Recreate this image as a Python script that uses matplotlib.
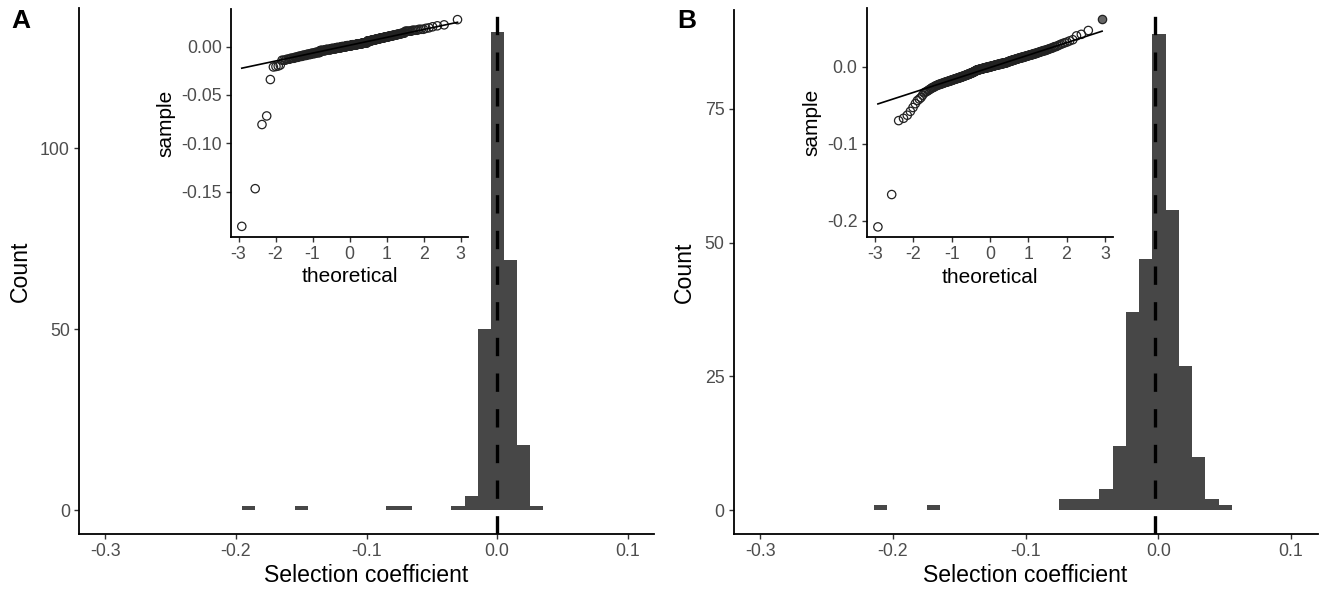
import statistics
import numpy as np
import matplotlib
matplotlib.use("Agg")
import matplotlib.pyplot as plt

plt.rcParams['font.family'] = ['Liberation Sans', 'DejaVu Sans']
plt.rcParams['axes.unicode_minus'] = False

# panel A: selection coefficients, each value with how often it occurs
sel_a_values = [-0.186, -0.147, -0.0806, -0.0717, -0.034, -0.021, -0.0205, -0.020, -0.019,
                -0.014, -0.013, -0.012, -0.011, -0.010, -0.009, -0.008, -0.007, -0.006,
                -0.004, -0.003, -0.002, -0.001, 0.0, 0.001, 0.002, 0.003, 0.004,
                0.006, 0.007, 0.008, 0.009, 0.010, 0.011, 0.012, 0.013, 0.014,
                0.016, 0.017, 0.018, 0.019, 0.0195, 0.0206, 0.0216, 0.0226, 0.028]
sel_a_counts = [1, 1, 1, 1, 1, 1, 1, 1, 1,
                3, 3, 4, 4, 5, 6, 7, 8, 10,
                13, 14, 14, 15, 15, 16, 16, 15, 14,
                11, 10, 9, 9, 8, 7, 6, 5, 4,
                6, 4, 3, 1, 1, 1, 1, 1, 1]

# panel B
sel_b_values = [-0.208, -0.166, -0.070, -0.067, -0.063, -0.058, -0.053, -0.048, -0.044, -0.042, -0.040, -0.037,
                -0.034, -0.033, -0.032, -0.031, -0.030, -0.029, -0.028, -0.027, -0.026, -0.025,
                -0.024, -0.023, -0.022, -0.021, -0.020, -0.019, -0.018, -0.017, -0.016, -0.015,
                -0.014, -0.013, -0.012, -0.011, -0.010, -0.009, -0.008, -0.007, -0.006, -0.005,
                -0.004, -0.003, -0.002, -0.001, 0.0, 0.001, 0.002, 0.003, 0.004, 0.005,
                0.006, 0.007, 0.008, 0.009, 0.010, 0.011, 0.012, 0.013, 0.014, 0.015,
                0.016, 0.017, 0.018, 0.019, 0.020, 0.021, 0.022, 0.023, 0.024, 0.025,
                0.026, 0.027, 0.028, 0.029, 0.030, 0.031, 0.032, 0.0335, 0.035,
                0.040, 0.042, 0.047]
sel_b_counts = [1, 1, 1, 1, 1, 1, 1, 1, 1, 1, 1, 1,
                1, 1, 1, 1, 1, 1, 1, 2, 1, 2,
                2, 3, 3, 3, 4, 4, 4, 4, 5, 5,
                5, 5, 5, 5, 5, 5, 5, 4, 4, 4,
                8, 9, 9, 9, 9, 9, 9, 9, 9, 9,
                5, 6, 6, 6, 6, 6, 6, 5, 5, 5,
                4, 4, 3, 3, 3, 3, 2, 2, 2, 1,
                2, 1, 1, 1, 1, 1, 1, 1, 1,
                1, 1, 1]
sel_b_flagged = [0.0623]  # grey point in the qq inset, not in the histogram

bin_width = 0.01
bin_start_a = -0.195
bin_start_b = -0.2245
x_ticks = [-0.3, -0.2, -0.1, 0.0, 0.1]
x_limits = (-0.32, 0.12)
y_ticks_a = [0, 50, 100]
y_ticks_b = [0, 25, 50, 75]
qq_ticks_x = [-3, -2, -1, 0, 1, 2, 3]
qq_ticks_a = [-0.15, -0.10, -0.05, 0.00]
qq_ticks_b = [-0.2, -0.1, 0.0]

W, H = 1323, 594
tick_col = '#4D4D4D'


def px_rect(left, top, right, bottom):
    return [left / W, (H - bottom) / H, (right - left) / W, (bottom - top) / H]


def classic(ax):
    for s in ['top', 'right']:
        ax.spines[s].set_visible(False)
    for s in ['left', 'bottom']:
        ax.spines[s].set_linewidth(1.3)
        ax.spines[s].set_color('black')
    ax.tick_params(length=3.6, width=1.0, color='#333333', labelcolor=tick_col,
                   labelsize=12.8, pad=3)
    ax.set_facecolor('white')


def padded(lo, hi):
    d = (hi - lo) * 0.05
    return lo - d, hi + d


def draw_panel(fig, main_px, inset_px, sample, flagged, bin_start, y_ticks,
               qq_ticks, qq_fmt, letter, letter_x):
    ax = fig.add_axes(px_rect(*main_px))
    edges = np.arange(bin_start, sample.max() + bin_width, bin_width)
    counts, _, _ = ax.hist(sample, bins=edges, color='#474747')
    ax.axvline(np.mean(sample), color='black', lw=2.4, ls=(0, (5.5, 5.2)))
    ax.set_xlim(*x_limits)
    ax.set_ylim(*padded(0, counts.max()))
    ax.set_xticks(x_ticks)
    ax.set_xticklabels(['%.1f' % t for t in x_ticks])
    ax.set_yticks(y_ticks)
    classic(ax)
    ax.set_xlabel('Selection coefficient', fontsize=16.6, labelpad=3)
    ax.set_ylabel('Count', fontsize=16.6, labelpad=6)

    # qq inset
    qq = np.sort(np.concatenate([sample, flagged]))
    n = len(qq)
    nd = statistics.NormalDist()
    theo = np.array([nd.inv_cdf((i - 0.5) / n) for i in range(1, n + 1)])
    flag = np.isin(qq, flagged)
    ins = fig.add_axes(px_rect(*inset_px))
    q1, q3 = np.quantile(qq, [0.25, 0.75])
    z = nd.inv_cdf(0.75)
    slope = (q3 - q1) / (2 * z)
    icpt = q1 + slope * z
    tx = np.array([theo.min(), theo.max()])
    ins.plot(tx, icpt + slope * tx, color='black', lw=1.2, zorder=3)
    ins.scatter(theo[~flag], qq[~flag], s=36, facecolors='none',
                edgecolors='#222222', linewidths=0.9, zorder=2)
    ins.scatter(theo[flag], qq[flag], s=36, facecolors='#666666',
                edgecolors='#222222', linewidths=0.9, zorder=4)
    ins.set_xlim(*padded(theo.min(), theo.max()))
    ins.set_ylim(*padded(qq.min(), qq.max()))
    ins.set_xticks(qq_ticks_x)
    ins.set_yticks(qq_ticks)
    ins.set_yticklabels([qq_fmt % t for t in qq_ticks])
    classic(ins)
    ins.set_xlabel('theoretical', fontsize=15, labelpad=3)
    ins.set_ylabel('sample', fontsize=15, labelpad=4)

    fig.text(letter_x / W, 1 - 9 / H, letter, fontsize=19, fontweight='bold',
             va='top', ha='left')


sample_a = np.repeat(sel_a_values, sel_a_counts)
sample_b = np.repeat(sel_b_values, sel_b_counts)

fig = plt.figure(figsize=(W / 100, H / 100), dpi=100)
fig.patch.set_facecolor('white')

draw_panel(fig, (79, 8.3, 654, 534), (231, 9.3, 468.3, 236.7), sample_a, [],
           bin_start_a, y_ticks_a, qq_ticks_a, '%.2f', 'A', 11)
draw_panel(fig, (733.7, 10, 1317.5, 534), (866.7, 8.3, 1113.3, 237.3), sample_b,
           sel_b_flagged, bin_start_b, y_ticks_b, qq_ticks_b, '%.1f', 'B', 677)

fig.savefig('out.png', dpi=100, facecolor='white')
